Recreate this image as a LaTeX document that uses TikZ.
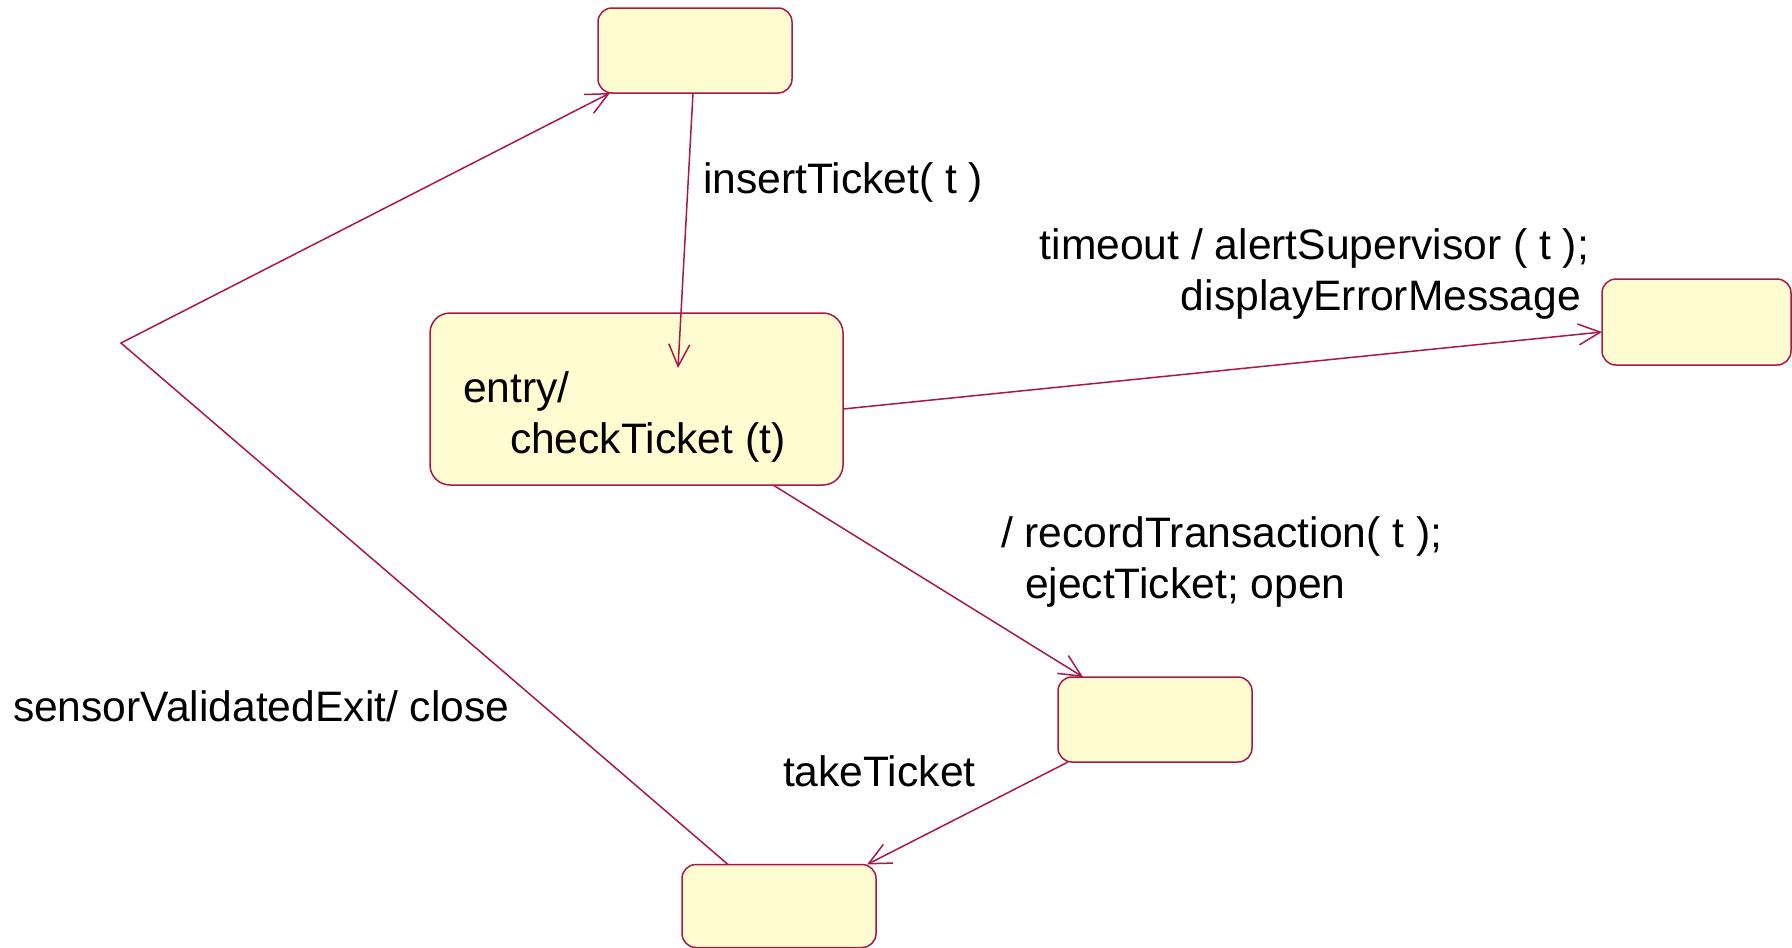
\documentclass[tikz,border=0pt]{standalone}
\usepackage{fontspec}
\setmainfont{Liberation Sans}
\usetikzlibrary{arrows.meta,calc}
\definecolor{edgecol}{RGB}{168,24,72}
\definecolor{statefill}{RGB}{255,252,210}
\begin{document}
\begin{tikzpicture}[x=1pt,y=-1pt,
  every node/.style={inner sep=0pt,outer sep=0pt},
  statebox/.style={draw=edgecol,fill=statefill,line width=1.5pt,rounded corners=14pt,minimum width=194pt,minimum height=85pt},
  trans/.style={draw=edgecol,line width=1.5pt,-{Straight Barb[length=22pt,width=21pt,line width=1.5pt]}},
  lbl/.style={font=\fontsize{42.6pt}{51pt}\selectfont,text=black},
]
\useasboundingbox (0,0) rectangle (1792,948);

% states
\node[statebox] (idle) at (695,50.5) {};
\node[statebox,rounded corners=20pt,minimum width=413pt,minimum height=172pt] (check) at (636.5,399) {};
\node[statebox,minimum width=189pt,minimum height=86pt] (alarm) at (1696.5,322) {};
\node[statebox] (eject) at (1155,719.5) {};
\node[statebox,minimum height=83pt] (exitst) at (779,906) {};

% activity of the checking state (base anchor sits on the last line)
\node[lbl,anchor=base west,align=left] (checktxt) at (463,453) {entry/\\\hspace{47pt}checkTicket (t)};

% transitions
\coordinate (bend) at (121,343);
\draw[trans] ($(idle.south)+(-2,0)$) -- ($(check.north)+(41.5,55)$);
\draw[trans] ($(check.east)+(0,10)$) -- ($(alarm.west)+(0,10)$);
\draw[trans] ($(check.south)+(136.5,0)$) -- ($(eject.north)+(-72,0)$);
\draw[trans] ($(eject.south)+(-87,0)$) -- ($(exitst.north)+(88,0)$);
\draw[trans] ($(exitst.north)+(-51,0)$) -- (bend) -- ($(idle.south)+(-85,0)$);

% transition labels
\node[lbl,anchor=base east,align=right] (l2) at (1589,310) {timeout / alertSupervisor ( t );\\displayErrorMessage\hspace*{8pt}};
\node[lbl,anchor=base west] (l1) at (703,193) {insertTicket( t )};
\node[lbl,anchor=base west,align=left] (l3) at (1001,598) {/ recordTransaction( t );\\\hspace{24pt}ejectTicket; open};
\node[lbl,anchor=base west] (l4) at (783,786) {takeTicket};
\node[lbl,anchor=base west] (l5) at (13,721) {sensorValidatedExit/ close};
\end{tikzpicture}
\end{document}
